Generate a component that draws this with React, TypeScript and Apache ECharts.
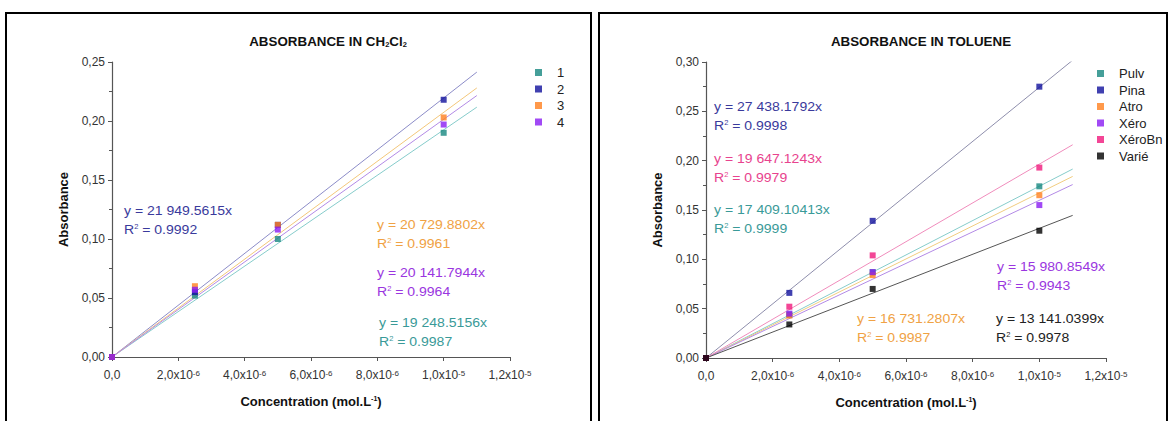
import React, { useEffect, useRef } from 'react';
import * as echarts from 'echarts';

// ---------- data ----------
const concentrations = [0, 2.5e-6, 5e-6, 1e-5];
const fitEnd = 1.1e-5;

const xTickMantissa = ['0,0', '2,0x10', '4,0x10', '6,0x10', '8,0x10', '1,0x10', '1,2x10'];
const xTickExponent = ['', '-6', '-6', '-6', '-6', '-5', '-5'];

// Left chart: CH2Cl2
const leftNames = ['1', '2', '3', '4'];
const leftAbs1 = [0, 0.052, 0.1, 0.19];
const leftAbs2 = [0, 0.055, 0.112, 0.218];
const leftAbs3 = [0, 0.06, 0.112, 0.203];
const leftAbs4 = [0, 0.057, 0.108, 0.197];
const leftSlopes = [19248.5156, 21949.5615, 20729.8802, 20141.7944];
const leftSlopeLabels = ['19 248.5156', '21 949.5615', '20 729.8802', '20 141.7944'];
const leftR2 = ['0.9987', '0.9992', '0.9961', '0.9964'];

// Right chart: toluene
const rightNames = ['Pulv', 'Pina', 'Atro', 'Xéro', 'XéroBn', 'Varié'];
const rightPulv = [0, 0.044, 0.087, 0.174];
const rightPina = [0, 0.066, 0.139, 0.275];
const rightAtro = [0, 0.043, 0.084, 0.165];
const rightXero = [0, 0.045, 0.087, 0.155];
const rightXeroBn = [0, 0.052, 0.104, 0.193];
const rightVarie = [0, 0.034, 0.07, 0.129];
const rightSlopes = [17409.10413, 27438.1792, 16731.2807, 15980.8549, 19647.1243, 13141.0399];
const rightSlopeLabels = ['17 409.10413', '27 438.1792', '16 731.2807', '15 980.8549', '19 647.1243', '13 141.0399'];
const rightR2 = ['0.9999', '0.9998', '0.9987', '0.9943', '0.9979', '0.9978'];

// ---------- styles ----------
const leftMarkerColors = ['#17877f', '#10109c', '#ff7f1e', '#8a1cf2'];
const leftLineColors = ['#86cccb', '#8c8cc8', '#f3c77a', '#b38ae6'];
const leftTextColors = ['#3a9a98', '#3a3a9c', '#f0a244', '#9a36e0'];
const leftAnnotPos = [[379, 323], [124, 211], [377, 225], [377, 273]];

const rightMarkerColors = ['#17877f', '#10109c', '#ff7f1e', '#8a1cf2', '#f0187c', '#000000'];
const rightLineColors = ['#86cccb', '#8e8eac', '#f1cd80', '#b38ae6', '#f08cbc', '#555555'];
const rightTextColors = ['#3a9a98', '#3a3a9c', '#f0a244', '#9a36e0', '#e8438e', '#222222'];
const rightAnnotPos = [[714, 210], [714, 107], [857, 319], [997, 267], [714, 159], [996, 319]];

const leftValues = [leftAbs1, leftAbs2, leftAbs3, leftAbs4];
const rightValues = [rightPulv, rightPina, rightAtro, rightXero, rightXeroBn, rightVarie];

function buildSeries(names: string[], values: number[][], slopes: number[], markerColors: string[], lineColors: string[], idx: number) {
  const out: any[] = [];
  names.forEach((n, i) => {
    out.push({
      type: 'line',
      name: n + ' fit',
      xAxisIndex: idx,
      yAxisIndex: idx,
      data: [[0, 0], [fitEnd, slopes[i] * fitEnd]],
      symbol: 'none',
      lineStyle: { color: lineColors[i], width: 1 },
      silent: true,
      z: 2,
    });
  });
  names.forEach((n, i) => {
    out.push({
      type: 'scatter',
      name: n,
      xAxisIndex: idx,
      yAxisIndex: idx,
      data: concentrations.map((c, k) => [c, values[i][k]]),
      symbol: 'rect',
      symbolSize: 6,
      itemStyle: { color: markerColors[i] },
      z: 3,
    });
  });
  return out;
}

const FONT = 'Liberation Sans, Arial, sans-serif';
const ANN_SIZE = 13;
const ANN_SCALE = 1.08;

function annotations(slopeLabels: string[], r2: string[], colors: string[], pos: number[][]) {
  const out: any[] = [];
  slopeLabels.forEach((s, i) => {
    out.push({
      type: 'text',
      x: pos[i][0],
      y: pos[i][1],
      scaleX: ANN_SCALE,
      style: { text: 'y = ' + s + 'x', fill: colors[i], font: ANN_SIZE + 'px ' + FONT, verticalAlign: 'middle' },
    });
    out.push({
      type: 'text',
      x: pos[i][0],
      y: pos[i][1] + 19,
      scaleX: ANN_SCALE,
      style: {
        text: '{a|R}{s|2}{a| = ' + r2[i] + '}',
        verticalAlign: 'middle',
        rich: {
          a: { fontSize: ANN_SIZE, fontFamily: FONT, fill: colors[i], color: colors[i] },
          s: { fontSize: 7, fontFamily: FONT, fill: colors[i], color: colors[i], verticalAlign: 'top' },
        },
      },
    });
  });
  return out;
}

function xAxis(idx: number) {
  return {
    type: 'value',
    gridIndex: idx,
    min: 0,
    max: 1.2e-5,
    interval: 2e-6,
    name: 'Concentration (mol.L{s|-1})',
    nameLocation: 'middle',
    nameGap: 38,
    nameTextStyle: {
      fontFamily: FONT,
      fontWeight: 'bold',
      fontSize: 13,
      color: '#111',
      rich: { s: { fontSize: 7, fontWeight: 'bold', verticalAlign: 'top', fontFamily: FONT, color: '#111' } },
    },
    axisLine: { show: true, onZero: false, lineStyle: { color: '#555', width: 1.2 } },
    axisTick: { show: true, inside: false, length: 4, lineStyle: { color: '#555' } },
    splitLine: { show: false },
    axisLabel: {
      fontFamily: FONT,
      fontSize: 12,
      color: '#333',
      margin: 12,
      formatter: (v: number) => {
        const k = Math.round(v / 2e-6);
        const e = xTickExponent[k];
        return e ? '{b|' + xTickMantissa[k] + '}{s|' + e + '}' : '{b|' + xTickMantissa[k] + '}';
      },
      rich: {
        b: { fontSize: 12, fontFamily: FONT, color: '#333' },
        s: { fontSize: 8, fontFamily: FONT, color: '#333', verticalAlign: 'top' },
      },
    },
  };
}

function yAxis(idx: number, max: number) {
  return {
    type: 'value',
    gridIndex: idx,
    min: 0,
    max,
    interval: 0.05,
    name: 'Absorbance',
    nameLocation: 'middle',
    nameGap: 42,
    nameTextStyle: { fontFamily: FONT, fontWeight: 'bold', fontSize: 13, color: '#111' },
    axisLine: { show: true, onZero: false, lineStyle: { color: '#555', width: 1.2 } },
    axisTick: { show: true, inside: false, length: 4, lineStyle: { color: '#555' } },
    minorTick: { show: true, splitNumber: 2, length: 3, lineStyle: { color: '#555' } },
    splitLine: { show: false },
    axisLabel: {
      fontFamily: FONT,
      fontSize: 12,
      color: '#333',
      margin: 7,
      formatter: (v: number) => v.toFixed(2).replace('.', ','),
    },
  };
}

function legend(names: string[], left: number, top: number) {
  return {
    data: names,
    orient: 'vertical',
    left,
    top,
    icon: 'rect',
    itemWidth: 7,
    itemHeight: 7,
    itemGap: 3.5,
    selectedMode: false,
    textStyle: { fontFamily: FONT, fontSize: 13, color: '#222', padding: [0, 0, 0, 10] },
  };
}

export default function App() {
  const ref = useRef<HTMLDivElement>(null);
  useEffect(() => {
    document.body.style.margin = '0';
    const chart = echarts.init(ref.current!, null, { renderer: 'svg' });
    chart.setOption({
      animation: false,
      backgroundColor: '#ffffff',
      grid: [
        { left: 112, top: 62, width: 398, height: 295 },
        { left: 706, top: 62, width: 400, height: 296 },
      ],
      xAxis: [xAxis(0), xAxis(1)],
      yAxis: [yAxis(0, 0.25), yAxis(1, 0.3)],
      legend: [legend(leftNames, 530, 61), legend(rightNames, 1092, 62)],
      series: [
        ...buildSeries(leftNames, leftValues, leftSlopes, leftMarkerColors, leftLineColors, 0),
        ...buildSeries(rightNames, rightValues, rightSlopes, rightMarkerColors, rightLineColors, 1),
      ],
      graphic: [
        { type: 'rect', shape: { x: 6, y: 13, width: 585, height: 430 }, style: { fill: 'none', stroke: '#000', lineWidth: 2 }, silent: true },
        { type: 'rect', shape: { x: 599, y: 13, width: 568, height: 430 }, style: { fill: 'none', stroke: '#000', lineWidth: 2 }, silent: true },
        {
          type: 'text',
          x: 328,
          y: 42,
          scaleX: 1.07,
          style: {
            text: '{a|ABSORBANCE IN CH}{s|2}{a|Cl}{s|2}',
            align: 'center',
            verticalAlign: 'middle',
            rich: {
              a: { fontSize: 12.5, fontWeight: 'bold', fontFamily: FONT, fill: '#111', color: '#111' },
              s: { fontSize: 7, fontWeight: 'bold', fontFamily: FONT, fill: '#111', color: '#111', verticalAlign: 'bottom' },
            },
          },
        },
        {
          type: 'text',
          x: 921,
          y: 42,
          scaleX: 1.07,
          style: { text: 'ABSORBANCE IN TOLUENE', align: 'center', verticalAlign: 'middle', font: 'bold 12.5px ' + FONT, fill: '#111' },
        },
        ...annotations(leftSlopeLabels, leftR2, leftTextColors, leftAnnotPos),
        ...annotations(rightSlopeLabels, rightR2, rightTextColors, rightAnnotPos),
      ],
    });
    return () => chart.dispose();
  }, []);
  return <div ref={ref} style={{ width: 1171, height: 421 }} />;
}
